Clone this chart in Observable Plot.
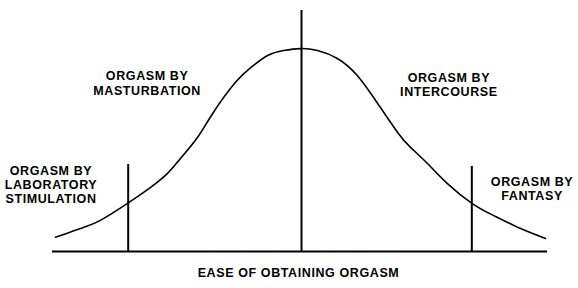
<!DOCTYPE html>
<html>
<head>
<meta charset="utf-8">
<script src="https://cdn.jsdelivr.net/npm/d3@7"></script>
<script src="https://cdn.jsdelivr.net/npm/@observablehq/plot@0.6"></script>
<style>
  html, body { margin: 0; padding: 0; background: #fff; }
  svg { display: block; }
</style>
</head>
<body>
<div id="chart"></div>
<script>
// Bell curve: ease (0-100) vs. relative frequency (0-100)
const curveEase = [0.6, 6.2, 9.6, 15.3, 19.7, 23.1, 25.7, 29.1, 32.3, 36.7, 39.8, 43.2, 46.4, 49.8,
                   53.2, 57.2, 61.2, 65.3, 69.3, 71.9, 75.3, 79.3, 84.3, 88.6, 94.0, 99.0];
const curveFreq = [5.9, 10.0, 12.9, 20.3, 26.6, 32.4, 38.6, 47.3, 57.7, 70.1, 76.3, 81.3, 83.4, 84.2,
                   83.4, 80.1, 73.0, 61.4, 49.4, 43.2, 36.5, 28.2, 19.9, 14.9, 9.5, 5.4];

// Vertical marker lines
const markerEase = [15.2, 50.0, 84.2];
const markerTop = [36.1, 100, 35.3];

// Annotation labels (data units)
const labelText = ["ORGASM BY\nLABORATORY\nSTIMULATION", "ORGASM BY\nMASTURBATION",
                   "ORGASM BY\nINTERCOURSE", "ORGASM BY\nFANTASY"];
const labelEase = [-0.3, 19.0, 79.6, 96.3];
const labelFreq = [27.8, 69.9, 69.3, 26.1];

const axisTitle = "EASE OF OBTAINING ORGASM";
const baselineEnd = 99.4;

const curve = curveEase.map((x, i) => ({x, y: curveFreq[i]}));
const markers = markerEase.map((x, i) => ({x, top: markerTop[i]}));
const labels = labelText.map((t, i) => ({t, x: labelEase[i], y: labelFreq[i]}));

const chart = Plot.plot({
  width: 578,
  height: 288,
  marginLeft: 52,
  marginRight: 28,
  marginTop: 10,
  marginBottom: 37,
  x: {domain: [0, 100], axis: null},
  y: {domain: [0, 100], axis: null},
  style: {fontFamily: "'Liberation Sans', Arial, sans-serif", background: "#fff", color: "#000", letterSpacing: "0.6px"},
  marks: [
    Plot.ruleY([0], {x1: 0, x2: baselineEnd, stroke: "#000", strokeWidth: 2}),
    Plot.ruleX(markers, {x: "x", y1: 0, y2: "top", stroke: "#000", strokeWidth: 2}),
    Plot.line(curve, {x: "x", y: "y", curve: "natural", stroke: "#000", strokeWidth: 1.6}),
    Plot.text(labels, {x: "x", y: "y", text: "t", fontSize: 12.5, fontWeight: "bold",
                       lineHeight: 1.15, fill: "#000"}),
    Plot.text([axisTitle], {x: 49.4, y: 0, text: d => d, dy: 21.5, fontSize: 12.5,
                            fontWeight: "bold", fill: "#000"})
  ]
});
document.getElementById("chart").appendChild(chart);
</script>
</body>
</html>
